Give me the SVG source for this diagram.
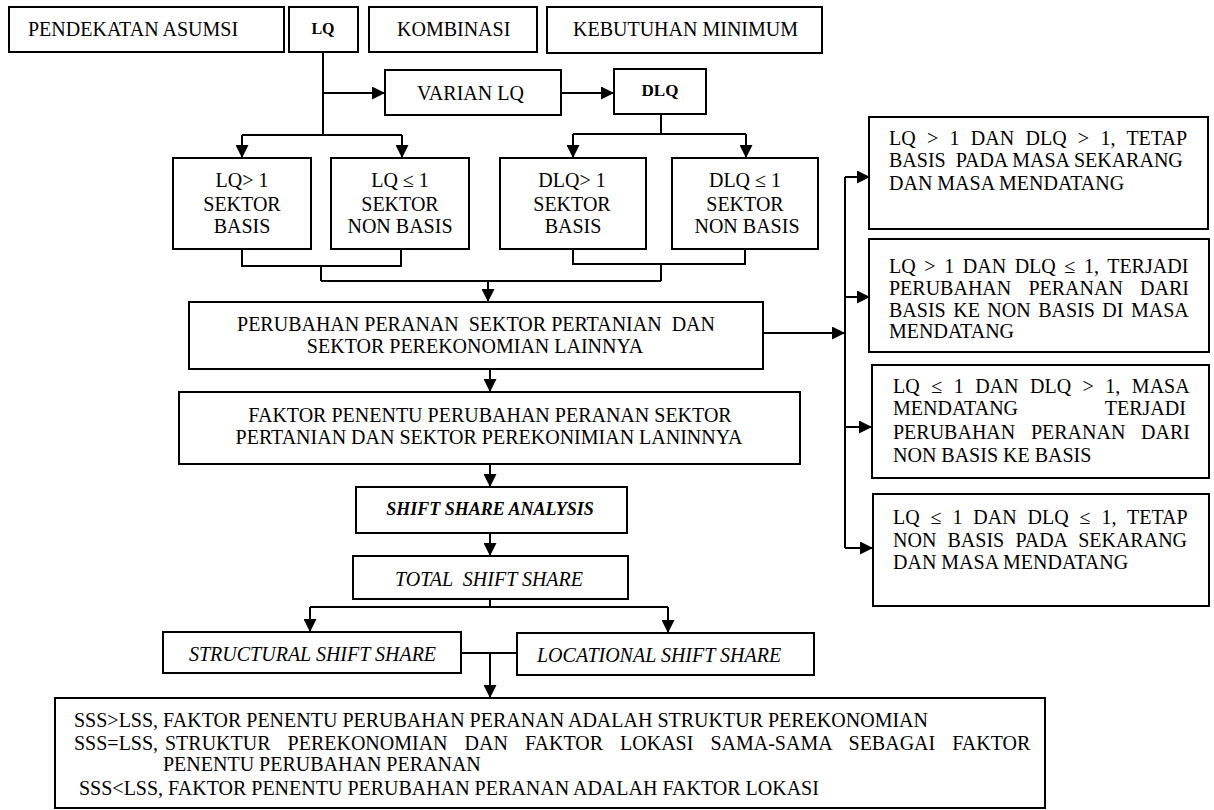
<svg xmlns="http://www.w3.org/2000/svg" width="1214" height="810" viewBox="0 0 1214 810">
<style>
.box{fill:#fff;stroke:#000;stroke-width:2}
.ln{fill:none;stroke:#000;stroke-width:2}
.t{font-family:"Liberation Serif","Times New Roman",serif;font-size:20px;fill:#000}
.m{text-anchor:middle}
.b{font-weight:bold}
.i{font-style:italic}
</style>
<defs>
<marker id="ah" markerUnits="userSpaceOnUse" markerWidth="13" markerHeight="13" refX="13" refY="6.5" orient="auto"><path d="M0,0 L13,6.5 L0,13 z" fill="#000"/></marker>
</defs>
<rect width="1214" height="810" fill="#fff"/>

<g id="connectors">
<path class="ln" d="M323,52 V135 M242,135 H402"/>
<path class="ln" d="M242,135 V158" marker-end="url(#ah)"/>
<path class="ln" d="M402,135 V158" marker-end="url(#ah)"/>
<path class="ln" d="M323,93 H385" marker-end="url(#ah)"/>
<path class="ln" d="M561,93 H614" marker-end="url(#ah)"/>
<path class="ln" d="M661,114 V134 M573,134 H746"/>
<path class="ln" d="M573,134 V158" marker-end="url(#ah)"/>
<path class="ln" d="M746,134 V158" marker-end="url(#ah)"/>
<path class="ln" d="M242,249 V266 H401 V249 M321,266 V281 M573,249 V264 H745 V249 M661,264 V281 M321,281 H661"/>
<path class="ln" d="M488,281 V302" marker-end="url(#ah)"/>
<path class="ln" d="M490,369 V392" marker-end="url(#ah)"/>
<path class="ln" d="M763,333 H845" marker-end="url(#ah)"/>
<path class="ln" d="M845,177 V548"/>
<path class="ln" d="M845,177 H870" marker-end="url(#ah)"/>
<path class="ln" d="M845,297 H870" marker-end="url(#ah)"/>
<path class="ln" d="M845,427 H872" marker-end="url(#ah)"/>
<path class="ln" d="M845,548 H873" marker-end="url(#ah)"/>
<path class="ln" d="M490,464 V487" marker-end="url(#ah)"/>
<path class="ln" d="M490,533 V556" marker-end="url(#ah)"/>
<path class="ln" d="M490,599 V607 M310,607 H668"/>
<path class="ln" d="M310,607 V632" marker-end="url(#ah)"/>
<path class="ln" d="M668,607 V633" marker-end="url(#ah)"/>
<path class="ln" d="M461,653 H517"/>
<path class="ln" d="M490,653 V698" marker-end="url(#ah)"/>
</g>

<g id="pendekatan"><rect class="box" x="9" y="7" width="275" height="45"/><text class="t" x="28" y="36">PENDEKATAN ASUMSI</text></g>
<g id="lq"><rect class="box" x="289" y="7" width="69" height="45"/><text class="t m b" x="323" y="34" style="font-size:16px">LQ</text></g>
<g id="kombinasi"><rect class="box" x="369" y="7" width="168" height="45"/><text class="t" x="397" y="36">KOMBINASI</text></g>
<g id="kebutuhan"><rect class="box" x="547" y="7" width="275" height="46"/><text class="t" x="573" y="36">KEBUTUHAN MINIMUM</text></g>

<g id="varian"><rect class="box" x="385" y="70" width="176" height="45"/><text class="t" x="417" y="100">VARIAN LQ</text></g>
<g id="dlq"><rect class="box" x="614" y="69" width="92" height="45"/><text class="t m b" x="660" y="96" style="font-size:17px">DLQ</text></g>

<g id="lq-basis"><rect class="box" x="173" y="158" width="138" height="91"/>
<text class="t m" x="242" y="187">LQ&gt; 1</text><text class="t m" x="242" y="211">SEKTOR</text><text class="t m" x="242" y="233">BASIS</text></g>
<g id="lq-nonbasis"><rect class="box" x="331" y="158" width="138" height="91"/>
<text class="t m" x="400" y="187">LQ ≤ 1</text><text class="t m" x="400" y="211">SEKTOR</text><text class="t m" x="400" y="233">NON BASIS</text></g>
<g id="dlq-basis"><rect class="box" x="500" y="158" width="146" height="91"/>
<text class="t m" x="572" y="187">DLQ&gt; 1</text><text class="t m" x="572" y="211">SEKTOR</text><text class="t m" x="573" y="233">BASIS</text></g>
<g id="dlq-nonbasis"><rect class="box" x="672" y="158" width="146" height="91"/>
<text class="t m" x="745" y="187">DLQ ≤ 1</text><text class="t m" x="745" y="211">SEKTOR</text><text class="t m" x="747" y="233">NON BASIS</text></g>

<g id="perubahan"><rect class="box" x="189" y="302" width="574" height="67"/>
<text class="t m" x="476" y="331" xml:space="preserve">PERUBAHAN PERANAN  SEKTOR PERTANIAN  DAN</text>
<text class="t m" x="475" y="353">SEKTOR PEREKONOMIAN LAINNYA</text></g>
<g id="faktor"><rect class="box" x="179" y="392" width="621" height="72"/>
<text class="t m" x="490" y="422">FAKTOR PENENTU PERUBAHAN PERANAN SEKTOR</text>
<text class="t m" x="489" y="444">PERTANIAN DAN SEKTOR PEREKONIMIAN LANINNYA</text></g>
<g id="ssa"><rect class="box" x="356" y="487" width="271" height="46"/>
<text class="t m b i" x="490" y="515" style="font-size:18px">SHIFT SHARE ANALYSIS</text></g>
<g id="tss"><rect class="box" x="353" y="556" width="275" height="43"/>
<text class="t m i" x="489" y="586" xml:space="preserve">TOTAL  SHIFT SHARE</text></g>
<g id="structural"><rect class="box" x="163" y="632" width="298" height="41"/>
<text class="t i" x="189" y="661">STRUCTURAL SHIFT SHARE</text></g>
<g id="locational"><rect class="box" x="517" y="633" width="297" height="42"/>
<text class="t i" x="537" y="662">LOCATIONAL SHIFT SHARE</text></g>

<g id="r1"><rect class="box" x="869" y="117" width="339" height="112"/>
<text class="t" x="889" y="145" word-spacing="6.3">LQ &gt; 1 DAN DLQ &gt; 1, TETAP</text>
<text class="t" x="889" y="167" xml:space="preserve">BASIS  PADA MASA SEKARANG</text>
<text class="t" x="889" y="190">DAN MASA MENDATANG</text></g>
<g id="r2"><rect class="box" x="869" y="239" width="340" height="113"/>
<text class="t" x="889" y="273" word-spacing="3.6">LQ &gt; 1 DAN DLQ ≤ 1, TERJADI</text>
<text class="t" x="889" y="295" word-spacing="12.2">PERUBAHAN PERANAN DARI</text>
<text class="t" x="889" y="317" word-spacing="2.5">BASIS KE NON BASIS DI MASA</text>
<text class="t" x="889" y="338">MENDATANG</text></g>
<g id="r3"><rect class="box" x="872" y="365" width="337" height="113"/>
<text class="t" x="893" y="393" word-spacing="6.5">LQ ≤ 1 DAN DLQ &gt; 1, MASA</text>
<text class="t" x="893" y="415" word-spacing="82">MENDATANG TERJADI</text>
<text class="t" x="893" y="439" word-spacing="10.7">PERUBAHAN PERANAN DARI</text>
<text class="t" x="893" y="462">NON BASIS KE BASIS</text></g>
<g id="r4"><rect class="box" x="873" y="494" width="336" height="112"/>
<text class="t" x="893" y="524" word-spacing="5.9">LQ ≤ 1 DAN DLQ ≤ 1, TETAP</text>
<text class="t" x="893" y="547" word-spacing="6.2">NON BASIS PADA SEKARANG</text>
<text class="t" x="893" y="569">DAN MASA MENDATANG</text></g>

<g id="kesimpulan"><rect class="box" x="55" y="698" width="990" height="110"/>
<text class="t" x="74" y="727">SSS&gt;LSS, FAKTOR PENENTU PERUBAHAN PERANAN ADALAH STRUKTUR PEREKONOMIAN</text>
<text class="t" x="74" y="750">SSS=LSS,</text>
<text class="t" x="165" y="750" word-spacing="12">STRUKTUR PEREKONOMIAN DAN FAKTOR LOKASI SAMA-SAMA SEBAGAI FAKTOR</text>
<text class="t" x="163" y="771">PENENTU PERUBAHAN PERANAN</text>
<text class="t" x="79" y="795">SSS&lt;LSS, FAKTOR PENENTU PERUBAHAN PERANAN ADALAH FAKTOR LOKASI</text></g>
</svg>
